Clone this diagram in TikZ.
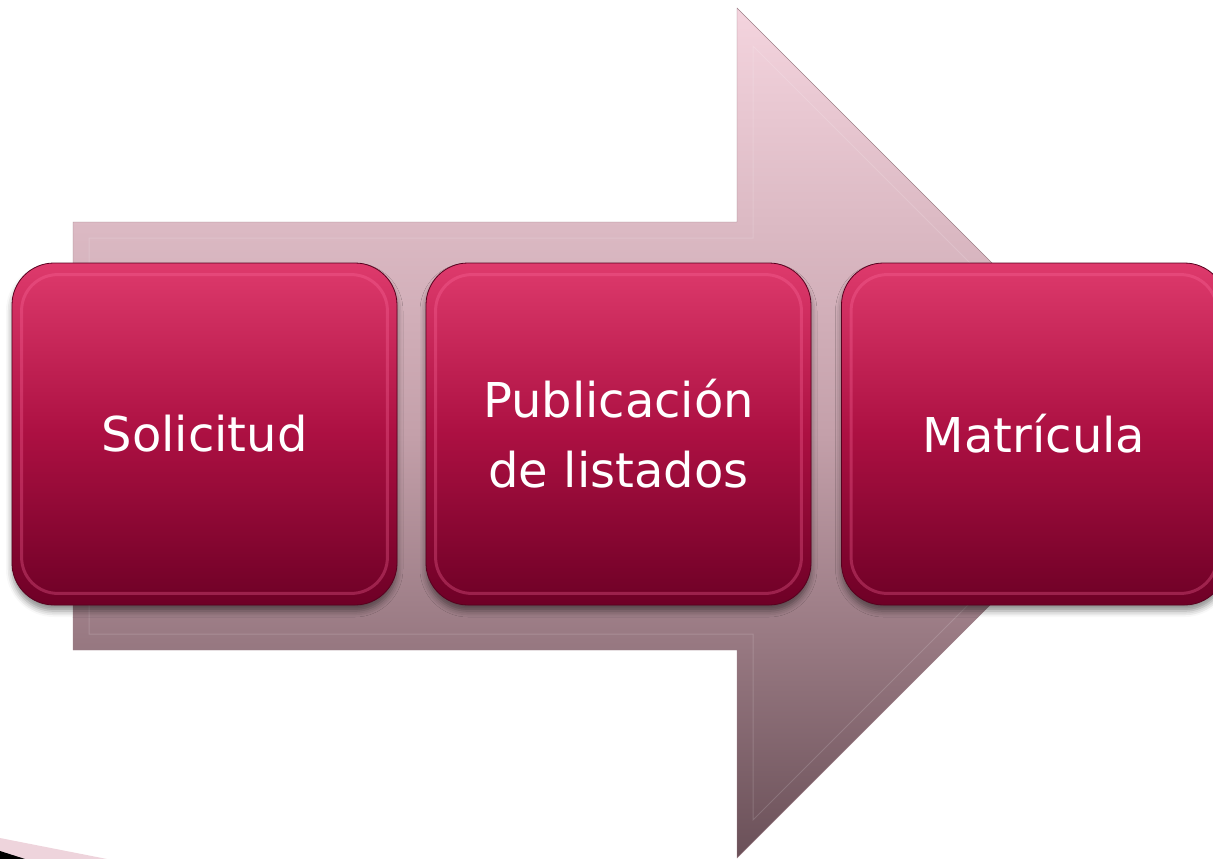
\documentclass[tikz,border=0pt]{standalone}
\usepackage{fontspec}
\setmainfont{DejaVu Sans}
\usetikzlibrary{shadows.blur}
\definecolor{boxtop}{RGB}{222,58,108}
\definecolor{boxmid}{RGB}{172,16,66}
\definecolor{boxbot}{RGB}{110,0,38}
\definecolor{rim}{RGB}{255,110,160}
\definecolor{arrtop}{RGB}{244,212,222}
\definecolor{arrmid}{RGB}{196,160,170}
\definecolor{arrbot}{RGB}{106,80,88}
\definecolor{artpink}{RGB}{238,212,220}
\tikzset{
  stepbox/.style={rounded corners=42pt, minimum width=385pt, minimum height=342pt,
    top color=boxtop, bottom color=boxbot, middle color=boxmid,
    draw=boxbot!80!black, line width=0.8pt,
    blur shadow={shadow xshift=0pt, shadow yshift=-6pt, shadow blur radius=6pt, shadow opacity=45},
    text=white, font=\fontsize{48}{70}\selectfont, align=center, inner sep=0pt},
  rimline/.style={draw=rim, line width=3pt, opacity=0.3, rounded corners=36pt}
}
\begin{document}
\begin{tikzpicture}[x=1pt,y=-1pt]
\useasboundingbox (0,0) rectangle (1213,859);
\clip (0,0) rectangle (1213,859);
% big arrow
\path[top color=arrtop, bottom color=arrbot, middle color=arrmid, draw=arrmid!80!black, line width=0.4pt]
  (73,222) -- (737,222) -- (737,8) -- (1162,433) -- (737,858) -- (737,650) -- (73,650) -- cycle;
\draw[white, opacity=0.15, line width=1pt]
  (89,238) -- (753,238) -- (753,46) -- (1140,433) -- (753,820) -- (753,634) -- (89,634) -- cycle;
% bottom-left artifact
\fill[artpink] (0,838) -- (107,859) -- (0,859) -- cycle;
\fill[black] (0,851) -- (25,859) -- (0,859) -- cycle;
% boxes
\node[stepbox] (s1) at (204.5,434) {Solicitud};
\node[stepbox] (s2) at (618.5,434) {Publicación\\de listados};
\node[stepbox] (s3) at (1034,434) {Matrícula};
\foreach \n in {s1,s2,s3}{
  \draw[rimline] ([shift={(10pt,-12pt)}]\n.north west) rectangle ([shift={(-10pt,12pt)}]\n.south east);
}
\end{tikzpicture}
\end{document}
